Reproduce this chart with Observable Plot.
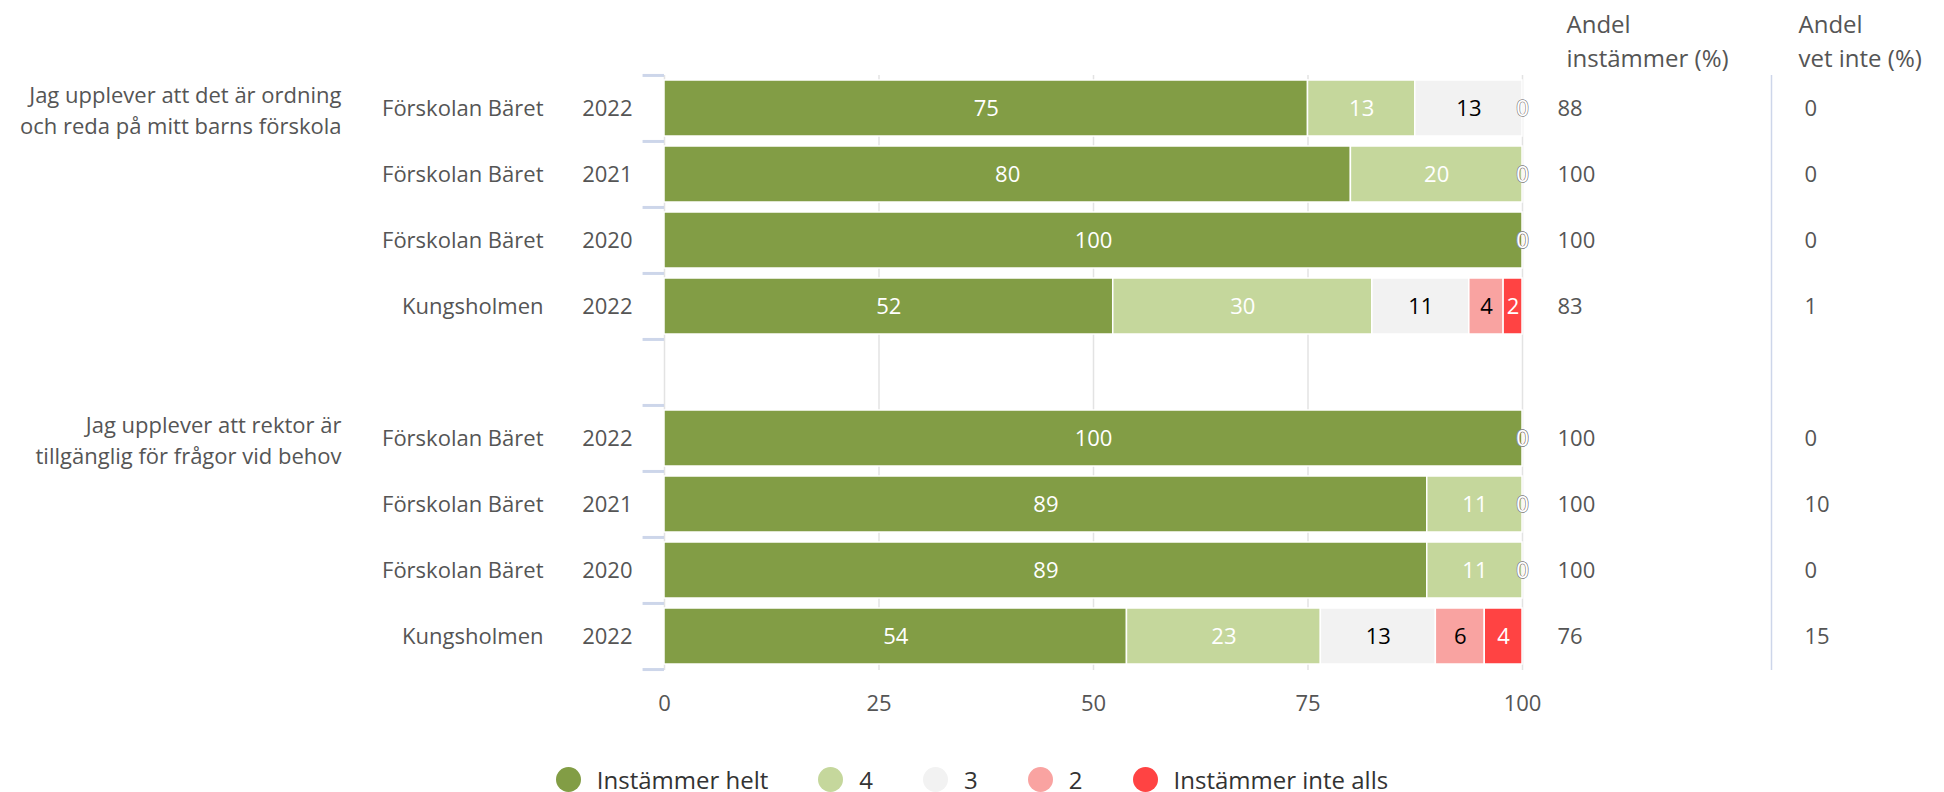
<!DOCTYPE html>
<html><head><meta charset="utf-8">
<script src="https://cdn.jsdelivr.net/npm/d3@7"></script>
<script src="https://cdn.jsdelivr.net/npm/@observablehq/plot@0.6"></script>
<style>
body{margin:0;background:#fff;font-family:"Open Sans",sans-serif;}
#legend{display:flex;justify-content:center;align-items:center;height:34px;gap:50px;font-size:24px;color:#333;}
#legend .item{display:flex;align-items:center;}
#legend .dot{width:25px;height:25px;border-radius:50%;margin-right:16px;display:inline-block;}
</style></head><body><div id="chart"></div><div id="legend"></div>
<script>
const questions = ["Jag upplever att det är ordning\noch reda på mitt barns förskola", "Jag upplever att rektor är\ntillgänglig för frågor vid behov"];
const units = ["Förskolan Bäret", "Förskolan Bäret", "Förskolan Bäret", "Kungsholmen"];
const years = ["2022", "2021", "2020", "2022"];
const categories = ["Instämmer helt", "4", "3", "2", "Instämmer inte alls"];
const colors = ["#829d45", "#c5d79c", "#f2f2f2", "#f9a3a1", "#ff4343"];
const labelColors = ["white", "white", "black", "black", "white"];
const q1Values = [[75, 12.5, 12.5, 0, 0], [80, 20, 0, 0, 0], [100, 0, 0, 0, 0], [52.3, 30.2, 11.3, 4.0, 2.2]];
const q2Values = [[100, 0, 0, 0, 0], [88.9, 11.1, 0, 0, 0], [88.9, 11.1, 0, 0, 0], [53.9, 22.6, 13.4, 5.7, 4.4]];
const q1Agree = [88, 100, 100, 83];
const q1DontKnow = [0, 0, 0, 1];
const q2Agree = [100, 100, 100, 76];
const q2DontKnow = [0, 10, 0, 15];
const xTicks = [0, 25, 50, 75, 100];
const headerAgree = "Andel\ninstämmer (%)";
const headerDontKnow = "Andel\nvet inte (%)";

const FONT = 22;
const HFONT = 24;
const qValues = [q1Values, q2Values];
const qAgree = [q1Agree, q2Agree];
const qDK = [q1DontKnow, q2DontKnow];
const rowKeys = ["0-0","0-1","0-2","0-3","gap","1-0","1-1","1-2","1-3"];
const rows = [];
const segs = [];
qValues.forEach((vals, qi) => {
  vals.forEach((rv, ri) => {
    const key = qi + "-" + ri;
    rows.push({row: key, unit: units[ri], year: years[ri], agree: qAgree[qi][ri], dk: qDK[qi][ri]});
    let acc = 0;
    rv.forEach((v, ci) => {
      segs.push({row: key, cat: categories[ci], value: v, x1: acc, x2: acc + v, lc: labelColors[ci]});
      acc += v;
    });
  });
});
const qData = questions.map((q, qi) => ({row: qi + "-0", text: q}));
const step = 595 / 9;
const half = step / 2;
const tickKeys = rowKeys.slice();
const mid = d => (d.x1 + d.x2) / 2;

const chart = Plot.plot({
  width: 1944,
  height: 762,
  marginLeft: 664,
  marginRight: 422,
  marginTop: 75,
  marginBottom: 92,
  style: {fontFamily: "Open Sans, sans-serif", fontSize: FONT + "px", color: "#555", background: "white"},
  x: {domain: [0, 100], ticks: xTicks, tickSize: 0, tickPadding: 25, label: null},
  y: {domain: rowKeys, axis: null, paddingInner: 0.15, paddingOuter: 0.075},
  color: {domain: categories, range: colors},
  marks: [
    Plot.ruleX(xTicks, {stroke: "#e3e3e3", strokeWidth: 1.5}),
    Plot.ruleY(tickKeys, {y: d => d, x1: -2.5, x2: 0, dy: -half, stroke: "#cdd6ea", strokeWidth: 3}),
    Plot.ruleY(["1-3"], {y: d => d, x1: -2.5, x2: 0, dy: half, stroke: "#cdd6ea", strokeWidth: 3}),
    Plot.barX(segs, {x1: "x1", x2: "x2", y: "row", fill: "cat", stroke: "white", strokeWidth: 1.5}),
    Plot.text(segs.filter(d => d.value > 0 && d.lc === "white"), {x: mid, y: "row", text: d => Math.round(d.value), fill: "white"}),
    Plot.text(segs.filter(d => d.value > 0 && d.lc === "black"), {x: mid, y: "row", text: d => Math.round(d.value), fill: "black"}),
    Plot.text(segs.filter(d => d.value === 0), {x: mid, y: "row", text: d => Math.round(d.value), fill: "white", stroke: "#888", strokeWidth: 1}),
    Plot.text(rows, {x: 0, y: "row", text: "unit", textAnchor: "end", dx: -121, fill: "#555"}),
    Plot.text(rows, {x: 0, y: "row", text: "year", textAnchor: "end", dx: -32, fill: "#555"}),
    Plot.text(qData, {x: 0, y: "row", text: "text", textAnchor: "end", dx: -323, lineHeight: 31 / FONT, fill: "#555"}),
    Plot.text(rows, {x: 100, y: "row", text: "agree", textAnchor: "start", dx: 35, fill: "#555"}),
    Plot.text(rows, {x: 100, y: "row", text: "dk", textAnchor: "start", dx: 282, fill: "#555"}),
    Plot.ruleX([100], {dx: 249, stroke: "#cdd6ea", strokeWidth: 1.5}),
    Plot.text([headerAgree], {x: 100, frameAnchor: "top", lineAnchor: "middle", text: d => d, textAnchor: "start", dx: 44, dy: -36, fontSize: HFONT, lineHeight: 34 / HFONT, fill: "#555"}),
    Plot.text([headerDontKnow], {x: 100, frameAnchor: "top", lineAnchor: "middle", text: d => d, textAnchor: "start", dx: 276, dy: -36, fontSize: HFONT, lineHeight: 34 / HFONT, fill: "#555"})
  ]
});
document.getElementById("chart").appendChild(chart);

const legend = document.getElementById("legend");
categories.forEach((c, i) => {
  const item = document.createElement("span");
  item.className = "item";
  const dot = document.createElement("span");
  dot.className = "dot";
  dot.style.background = colors[i];
  item.appendChild(dot);
  item.appendChild(document.createTextNode(c));
  legend.appendChild(item);
});
</script></body></html>
